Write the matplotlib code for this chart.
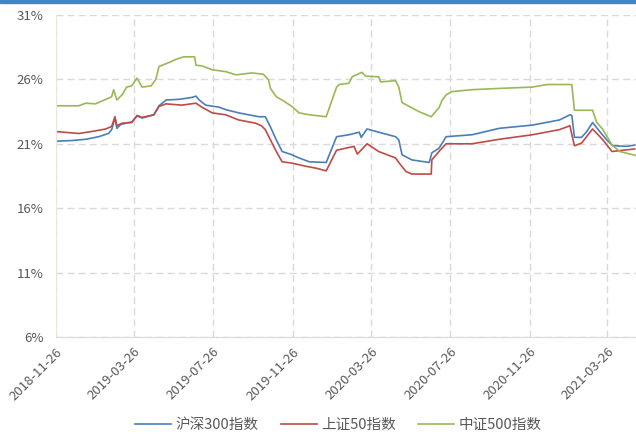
import matplotlib
matplotlib.use("Agg")
import matplotlib.pyplot as plt
import matplotlib.dates as mdates
import pandas as pd

plt.rcParams['font.family'] = ['Noto Sans CJK SC', 'DejaVu Sans']

# 沪深300指数
hs300_dates = ["2018-11-26", "2018-12-20", "2019-01-11", "2019-01-31", "2019-02-15",
               "2019-02-20", "2019-02-25", "2019-02-28", "2019-03-06", "2019-03-23",
               "2019-03-31", "2019-04-08", "2019-04-26", "2019-05-04", "2019-05-15",
               "2019-06-04", "2019-06-24", "2019-06-30", "2019-07-05", "2019-07-15",
               "2019-08-04", "2019-08-15", "2019-09-04", "2019-10-05", "2019-10-15",
               "2019-10-23", "2019-11-01", "2019-11-10", "2019-11-25", "2019-12-06",
               "2019-12-22", "2020-01-17", "2020-02-02", "2020-02-21", "2020-03-08",
               "2020-03-11", "2020-03-20", "2020-04-07", "2020-05-03", "2020-05-08",
               "2020-05-13", "2020-05-28", "2020-06-24", "2020-06-28", "2020-07-09",
               "2020-07-14", "2020-07-20", "2020-08-29", "2020-10-10", "2020-11-30",
               "2021-01-11", "2021-01-27", "2021-01-30", "2021-02-03", "2021-02-14",
               "2021-02-22", "2021-03-03", "2021-03-14", "2021-03-25", "2021-04-03",
               "2021-04-25", "2021-05-07"]
hs300 = [21.2, 21.25, 21.35, 21.55, 21.8,
         22.1, 23.0, 22.2, 22.5, 22.7,
         23.15, 23.0, 23.25, 23.95, 24.4,
         24.45, 24.6, 24.7, 24.4, 24.0,
         23.85, 23.65, 23.4, 23.1, 23.1,
         22.3, 21.3, 20.4, 20.15, 19.9,
         19.6, 19.55, 21.55, 21.7, 21.9,
         21.5, 22.15, 21.9, 21.55, 21.3,
         20.15, 19.75, 19.55, 20.3, 20.65,
         21.05, 21.55, 21.7, 22.2, 22.45,
         22.85, 23.25, 23.2, 21.5, 21.5,
         21.95, 22.65, 21.95, 21.3, 20.85,
         20.8, 20.9]

# 上证50指数
sz50_dates = ["2018-11-26", "2018-12-31", "2019-01-20", "2019-02-11", "2019-02-20",
              "2019-02-25", "2019-02-28", "2019-03-08", "2019-03-23", "2019-03-31",
              "2019-04-08", "2019-04-26", "2019-05-04", "2019-05-15", "2019-06-08",
              "2019-06-30", "2019-07-09", "2019-07-25", "2019-08-15", "2019-09-04",
              "2019-09-30", "2019-10-09", "2019-10-15", "2019-10-23", "2019-11-01",
              "2019-11-10", "2019-11-25", "2019-12-17", "2020-01-02", "2020-01-17",
              "2020-02-02", "2020-02-29", "2020-03-05", "2020-03-20", "2020-04-07",
              "2020-05-03", "2020-05-08", "2020-05-19", "2020-05-28", "2020-06-27",
              "2020-06-28", "2020-07-09", "2020-07-20", "2020-08-29", "2020-10-10",
              "2020-11-30", "2021-01-11", "2021-01-27", "2021-02-03", "2021-02-14",
              "2021-03-03", "2021-03-19", "2021-04-02", "2021-05-07"]
sz50 = [21.95, 21.8, 21.95, 22.15, 22.35,
        23.1, 22.4, 22.6, 22.65, 23.2,
        23.05, 23.25, 23.9, 24.1, 24.0,
        24.15, 23.85, 23.4, 23.25, 22.85,
        22.6, 22.4, 22.1, 21.3, 20.4,
        19.6, 19.5, 19.25, 19.1, 18.9,
        20.5, 20.8, 20.2, 21.0, 20.4,
        19.9, 19.55, 18.85, 18.65, 18.65,
        19.75, 20.4, 21.0, 21.0, 21.35,
        21.7, 22.1, 22.4, 20.85, 21.05,
        22.15, 21.3, 20.4, 20.6]

# 中证500指数
zz500_dates = ["2018-11-26", "2018-12-31", "2019-01-11", "2019-01-26", "2019-02-20",
               "2019-02-23", "2019-02-28", "2019-03-08", "2019-03-15", "2019-03-23",
               "2019-03-31", "2019-04-08", "2019-04-22", "2019-04-29", "2019-05-04",
               "2019-05-19", "2019-05-30", "2019-06-11", "2019-06-28", "2019-06-30",
               "2019-07-09", "2019-07-25", "2019-08-15", "2019-08-31", "2019-09-24",
               "2019-10-12", "2019-10-20", "2019-10-23", "2019-11-01", "2019-11-13",
               "2019-11-25", "2019-12-06", "2019-12-22", "2020-01-17", "2020-02-02",
               "2020-02-06", "2020-02-21", "2020-02-26", "2020-03-12", "2020-03-18",
               "2020-04-07", "2020-04-10", "2020-05-03", "2020-05-08", "2020-05-13",
               "2020-05-24", "2020-06-08", "2020-06-27", "2020-07-09", "2020-07-14",
               "2020-07-20", "2020-07-29", "2020-08-29", "2020-10-10", "2020-11-30",
               "2020-12-22", "2021-01-30", "2021-02-03", "2021-03-03", "2021-03-09",
               "2021-03-19", "2021-04-02", "2021-04-14", "2021-05-04", "2021-05-08"]
zz500 = [23.95, 23.95, 24.15, 24.1, 24.65,
         25.2, 24.4, 24.8, 25.4, 25.5,
         26.1, 25.4, 25.5, 26.0, 27.0,
         27.3, 27.55, 27.75, 27.75, 27.1,
         27.05, 26.75, 26.6, 26.35, 26.5,
         26.4, 25.95, 25.3, 24.65, 24.3,
         23.9, 23.4, 23.25, 23.1, 25.4,
         25.6, 25.7, 26.2, 26.55, 26.25,
         26.2, 25.8, 25.9, 25.4, 24.2,
         23.9, 23.5, 23.1, 23.8, 24.4,
         24.8, 25.05, 25.2, 25.3, 25.4,
         25.6, 25.6, 23.6, 23.6, 22.7,
         22.1, 20.9, 20.4, 20.15, 20.1]

tick_dates = ["2018-11-26", "2019-03-26", "2019-07-26", "2019-11-26",
              "2020-03-26", "2020-07-26", "2020-11-26", "2021-03-26"]
y_ticks = [6, 11, 16, 21, 26, 31]

fig = plt.figure(figsize=(6.36, 4.34), dpi=100)
# blue strip at the very top
fig.patches.append(plt.Rectangle((0, 0.993), 1, 0.007, transform=fig.transFigure,
                                 color='#3f86c8', zorder=0))
ax = fig.add_axes([0.088, 0.2235, 0.912, 0.742])

ax.plot(pd.to_datetime(hs300_dates), hs300, color='#4a7ebb', lw=1.2, label='沪深300指数')
ax.plot(pd.to_datetime(sz50_dates), sz50, color='#be4b48', lw=1.2, label='上证50指数')
ax.plot(pd.to_datetime(zz500_dates), zz500, color='#98b954', lw=1.2, label='中证500指数')

ax.set_ylim(6, 31)
ax.set_yticks(y_ticks)
ax.set_yticklabels([f'{v}%' for v in y_ticks])
ax.set_xlim(pd.Timestamp("2018-11-26"), pd.Timestamp("2021-05-09"))
ax.set_xticks(pd.to_datetime(tick_dates))
ax.xaxis.set_major_formatter(mdates.DateFormatter('%Y-%m-%d'))
plt.setp(ax.get_xticklabels(), rotation=45, ha='right', rotation_mode='anchor')

ax.grid(True, color='#d9d9d9', linestyle=(0, (5, 3)), linewidth=1.0)
ax.set_axisbelow(True)
for s in ['top', 'right']:
    ax.spines[s].set_visible(False)
ax.spines['left'].set_color('#ece7d6')
ax.spines['bottom'].set_color('#d9d9d9')
ax.tick_params(axis='both', length=0, labelsize=9.5, colors='#595959')
ax.tick_params(axis='y', pad=9)
ax.tick_params(axis='x', pad=6)

leg = fig.legend(loc='lower center', ncol=3, frameon=False, fontsize=10.5,
                 bbox_to_anchor=(0.532, -0.025), handlelength=2.5, handletextpad=0.3,
                 columnspacing=1.5)
for t in leg.get_texts():
    t.set_color('#595959')

fig.savefig('out.png', dpi=100)
